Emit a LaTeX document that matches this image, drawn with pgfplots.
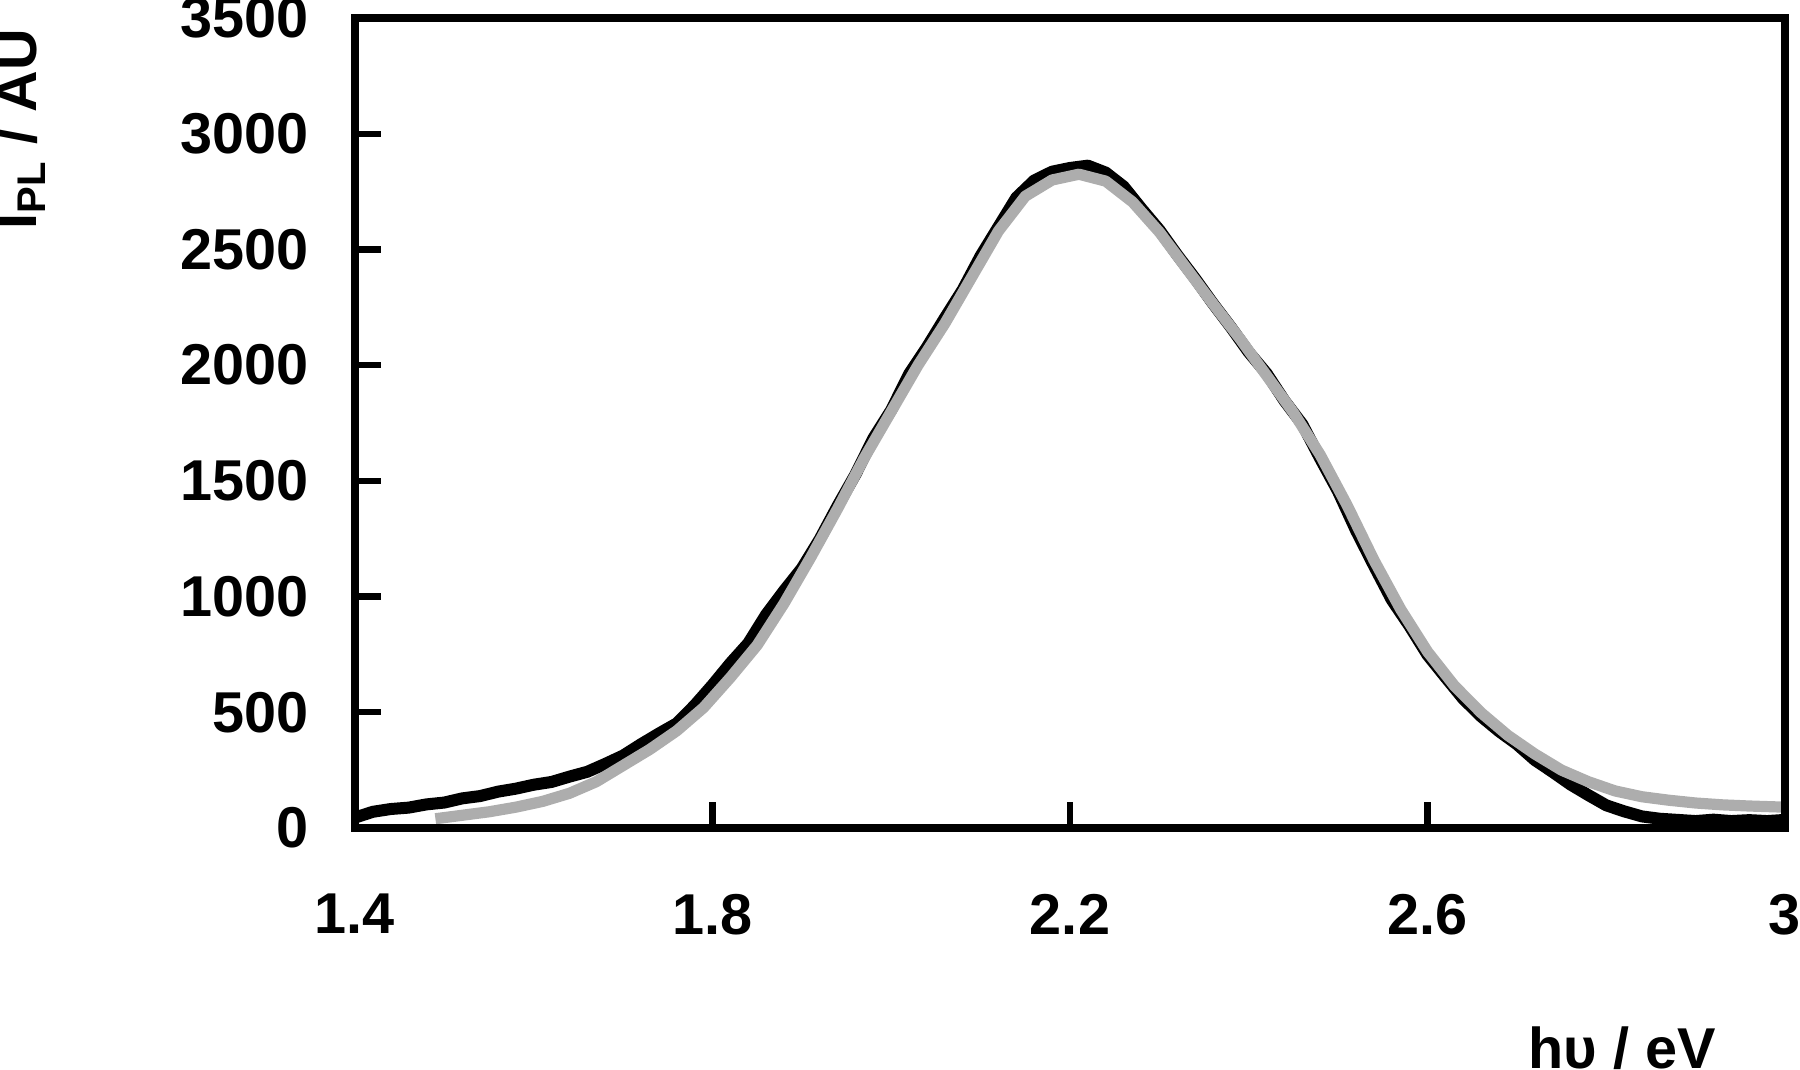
\documentclass[border=0pt]{standalone}
\usepackage{fontspec}
\setmainfont{Liberation Sans}
\usepackage{pgfplots}
\pgfplotsset{compat=1.18}
\definecolor{pgray}{gray}{0.68}

\newcommand\lblfont{\fontsize{14.4}{16}\selectfont\bfseries}

\begin{document}
\begin{tikzpicture}
\begin{axis}[
    name=ax,
    scale only axis,
    width=357.5pt, height=202.5pt,
    xmin=1.4, xmax=3, ymin=0, ymax=3500,
    xtick={1.4,1.8,2.2,2.6,3},
    ytick={0,500,...,3500},
    xtick pos=bottom, ytick pos=left,
    tick align=inside,
    major tick length=6.5pt,
    every tick/.style={black, line width=1.6pt},
    axis line style={line width=1.8pt},
    axis on top,
    scaled ticks=false,
    /pgf/number format/1000 sep={},
    /pgf/number format/assume math mode=true,
    ticklabel style={font=\lblfont},
    yticklabel style={xshift=-8pt},
    xticklabel style={yshift=-13pt},
    xlabel={hυ / eV},
    xlabel style={font=\lblfont, at={(rel axis cs:0.886,-0.244)}, anchor=north, inner sep=0pt},
    ylabel={I\textsubscript{PL} / AU},
    ylabel style={font=\lblfont, at={(rel axis cs:-0.234,0.738)}, anchor=west, inner sep=0pt},
]
% black: measured spectrum (noisy)
\addplot[black, line width=3pt, line join=round] coordinates {
(1.40,45)(1.42,70)(1.44,82)(1.46,88)(1.48,102)(1.50,110)(1.52,128)(1.54,138)
(1.56,157)(1.58,170)(1.60,187)(1.62,199)(1.64,222)(1.66,243)(1.68,277)(1.70,313)
(1.72,362)(1.74,408)(1.76,452)(1.78,530)(1.80,618)(1.82,712)(1.84,798)(1.86,922)
(1.88,1025)(1.90,1122)(1.92,1248)(1.94,1392)(1.96,1528)(1.98,1684)(2.00,1806)
(2.02,1962)(2.04,2078)(2.06,2204)(2.08,2326)(2.10,2472)(2.12,2598)(2.14,2724)
(2.16,2798)(2.18,2836)(2.20,2852)(2.22,2862)(2.24,2832)(2.26,2772)(2.28,2676)
(2.30,2584)(2.32,2476)(2.34,2374)(2.36,2266)(2.38,2164)(2.40,2056)(2.42,1964)
(2.44,1846)(2.46,1744)(2.48,1596)(2.50,1454)(2.52,1286)(2.54,1134)(2.56,986)
(2.58,872)(2.60,748)(2.62,652)(2.64,558)(2.66,482)(2.68,418)(2.70,362)(2.72,294)
(2.74,242)(2.76,188)(2.78,142)(2.80,98)(2.82,72)(2.84,50)(2.86,40)(2.88,35)
(2.90,30)(2.92,36)(2.94,30)(2.96,34)(2.98,30)(3.00,35)
};
% grey: fitted curve
\addplot[pgray, line width=2.8pt, line join=round] coordinates {
(1.49,40)(1.52,55)(1.55,70)(1.58,90)(1.61,115)(1.64,150)(1.67,200)(1.70,270)
(1.73,340)(1.76,420)(1.79,520)(1.82,650)(1.85,790)(1.88,970)(1.91,1170)
(1.94,1380)(1.97,1600)(2.00,1800)(2.03,2000)(2.06,2180)(2.09,2380)(2.12,2580)
(2.15,2730)(2.18,2800)(2.21,2825)(2.24,2795)(2.27,2705)(2.30,2575)(2.33,2420)
(2.36,2265)(2.39,2115)(2.42,1955)(2.45,1795)(2.48,1612)(2.51,1395)(2.54,1158)
(2.57,945)(2.60,762)(2.63,615)(2.66,498)(2.69,400)(2.72,320)(2.75,250)(2.78,200)
(2.81,160)(2.84,135)(2.87,120)(2.90,108)(2.93,100)(2.96,95)(3.00,90)
};
\end{axis}
\pgfresetboundingbox
\path[use as bounding box] ([shift={(-88.75pt,-60.5pt)}]ax.south west)
    rectangle ([shift={(3.75pt,4.5pt)}]ax.north east);
\end{tikzpicture}
\end{document}
